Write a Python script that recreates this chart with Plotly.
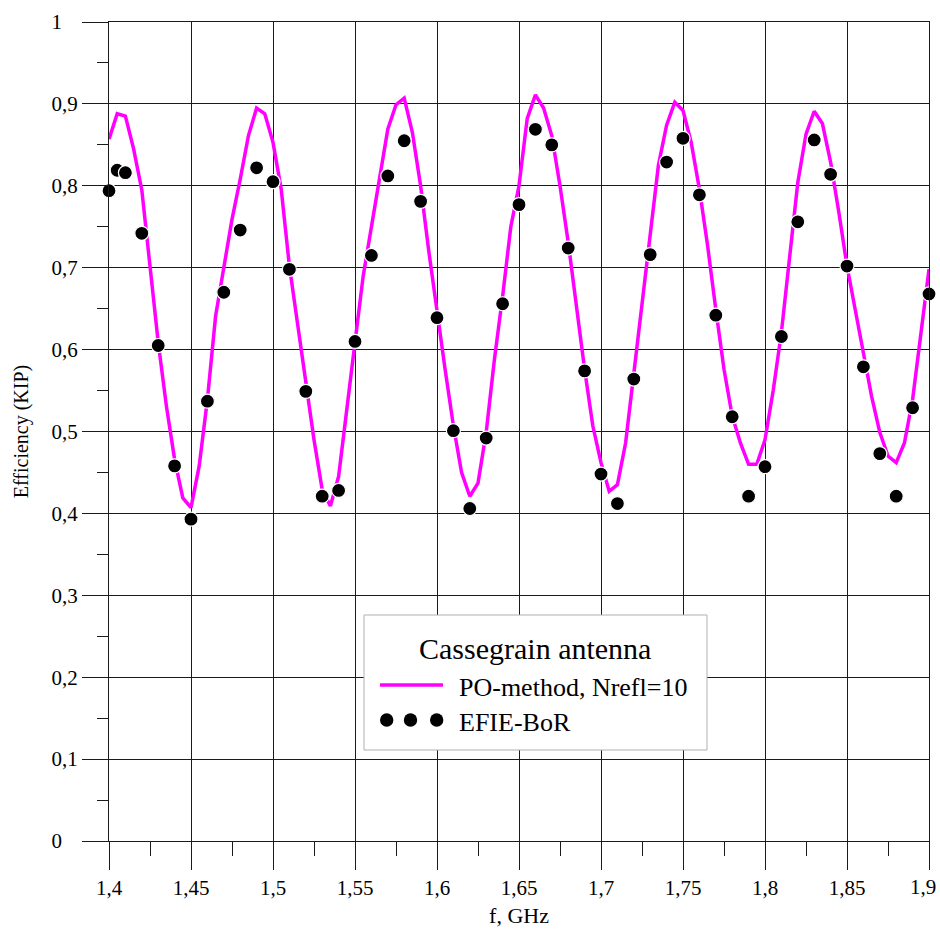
import plotly.graph_objects as go

# ---- data ----
po_freq = [round(1.4 + 0.005 * i, 3) for i in range(101)]
po_eff = [0.857, 0.888, 0.885, 0.845, 0.795, 0.700, 0.609, 0.531, 0.466, 0.419,
          0.407, 0.458, 0.539, 0.641, 0.702, 0.759, 0.808, 0.861, 0.895, 0.888,
          0.853, 0.796, 0.702, 0.629, 0.556, 0.490, 0.429, 0.409, 0.445, 0.523,
          0.609, 0.690, 0.750, 0.810, 0.869, 0.899, 0.907, 0.865, 0.800, 0.720,
          0.645, 0.575, 0.507, 0.450, 0.421, 0.437, 0.499, 0.588, 0.665, 0.750,
          0.800, 0.882, 0.911, 0.895, 0.861, 0.800, 0.731, 0.653, 0.576, 0.507,
          0.462, 0.427, 0.435, 0.486, 0.572, 0.650, 0.735, 0.825, 0.874, 0.902,
          0.892, 0.853, 0.796, 0.727, 0.649, 0.576, 0.519, 0.486, 0.460, 0.460,
          0.490, 0.550, 0.621, 0.711, 0.804, 0.863, 0.891, 0.876, 0.829, 0.768,
          0.702, 0.649, 0.596, 0.543, 0.499, 0.470, 0.462, 0.486, 0.539, 0.621,
          0.698]

efie_freq = [1.40, 1.405, 1.41, 1.42, 1.43, 1.44, 1.45, 1.46, 1.47, 1.48, 1.49,
             1.50, 1.51, 1.52, 1.53, 1.54, 1.55, 1.56, 1.57, 1.58, 1.59,
             1.60, 1.61, 1.62, 1.63, 1.64, 1.65, 1.66, 1.67, 1.68, 1.69,
             1.70, 1.71, 1.72, 1.73, 1.74, 1.75, 1.76, 1.77, 1.78, 1.79,
             1.80, 1.81, 1.82, 1.83, 1.84, 1.85, 1.86, 1.87, 1.88, 1.89, 1.90]
efie_eff = [0.794, 0.819, 0.816, 0.742, 0.605, 0.458, 0.393, 0.537, 0.670, 0.746, 0.822,
            0.805, 0.698, 0.549, 0.421, 0.428, 0.610, 0.715, 0.812, 0.855, 0.781,
            0.639, 0.501, 0.406, 0.492, 0.656, 0.777, 0.869, 0.850, 0.724, 0.574,
            0.448, 0.412, 0.564, 0.716, 0.829, 0.858, 0.789, 0.642, 0.518, 0.421,
            0.457, 0.616, 0.756, 0.856, 0.814, 0.702, 0.579, 0.473, 0.421, 0.529, 0.668]

x_tickvals = [1.4, 1.45, 1.5, 1.55, 1.6, 1.65, 1.7, 1.75, 1.8, 1.85, 1.9]
x_ticktext = ["1,4", "1,45", "1,5", "1,55", "1,6", "1,65", "1,7", "1,75", "1,8", "1,85", "1,9"]
y_tickvals = [0, 0.1, 0.2, 0.3, 0.4, 0.5, 0.6, 0.7, 0.8, 0.9, 1.0]
y_ticktext = ["0", "0,1", "0,2", "0,3", "0,4", "0,5", "0,6", "0,7", "0,8", "0,9", "1"]
x_minor = [1.425, 1.475, 1.525, 1.575, 1.625, 1.675, 1.725, 1.775, 1.825, 1.875]
y_minor = [0.05, 0.15, 0.25, 0.35, 0.45, 0.55, 0.65, 0.75, 0.85, 0.95]

legend_title = "Cassegrain antenna"
po_name = "PO-method, Nrefl=10"
efie_name = "EFIE-BoR"

FONT = "Liberation Serif, Times New Roman, serif"
MAGENTA = "#ff00ff"
GRID = "#1a1a1a"

# single-character y labels are centred like the multi-character ones in the original
y_ticktext_disp = [t + "\u2007\u00a0" if len(t) == 1 else t for t in y_ticktext]
# the last x label sits at the page edge; it is drawn as a right-anchored annotation instead
x_ticktext_disp = x_ticktext[:-1] + [""]

fig = go.Figure()
fig.add_trace(go.Scatter(x=po_freq, y=po_eff, mode="lines", name=po_name,
                         line=dict(color=MAGENTA, width=3.5), showlegend=False))
fig.add_trace(go.Scatter(x=efie_freq, y=efie_eff, mode="markers", name=efie_name,
                         marker=dict(color="black", size=14, line=dict(color="white", width=1.2)),
                         showlegend=False, cliponaxis=False))

axis_common = dict(
    showgrid=True, gridcolor=GRID, gridwidth=1,
    zeroline=False, showline=True, linecolor=GRID, linewidth=1, mirror=True,
    ticks="outside", tickcolor=GRID, tickwidth=1,
    tickfont=dict(family=FONT, size=21, color="black"),
    tickmode="array", ticklabeloverflow="allow",
)
fig.update_xaxes(**axis_common, range=[1.4, 1.9], tickvals=x_tickvals, ticktext=x_ticktext_disp,
                 ticklen=28,
                 minor=dict(ticks="outside", ticklen=14, tickcolor=GRID, tickwidth=1,
                            tickvals=x_minor, showgrid=False),
                 title=dict(text="f, GHz", font=dict(family=FONT, size=22, color="black"), standoff=8))
fig.update_yaxes(**axis_common, range=[0, 1], tickvals=y_tickvals, ticktext=y_ticktext_disp,
                 ticklen=26,
                 minor=dict(ticks="outside", ticklen=11, tickcolor=GRID, tickwidth=1,
                            tickvals=y_minor, showgrid=False),
                 title=dict(text="Efficiency (KIP)", font=dict(family=FONT, size=20, color="black"), standoff=17))

# ---- custom legend (box, title, samples, labels) in paper coordinates ----
W, H = 820.0, 819.0
def px(xp):
    return (xp - 109) / W
def py(yp):
    return (841 - yp) / H

shapes = [
    dict(type="rect", xref="paper", yref="paper", x0=px(364), x1=px(707), y0=py(750), y1=py(615),
         line=dict(color="#b0b0b0", width=1), fillcolor="white", layer="above"),
    dict(type="line", xref="paper", yref="paper", x0=px(380), x1=px(443), y0=py(685), y1=py(685),
         line=dict(color=MAGENTA, width=3.5), layer="above"),
]
for cx in (386.7, 410.5, 436.7):
    r = 6.7
    shapes.append(dict(type="circle", xref="paper", yref="paper",
                       x0=px(cx - r), x1=px(cx + r), y0=py(720 + r), y1=py(720 - r),
                       fillcolor="black", line=dict(color="black", width=0), layer="above"))

annotations = [
    dict(text=legend_title, xref="paper", yref="paper", x=px(535), y=py(648),
         xanchor="center", yanchor="middle", showarrow=False,
         font=dict(family=FONT, size=30, color="black")),
    dict(text=po_name, xref="paper", yref="paper", x=px(457), y=py(687),
         xanchor="left", yanchor="middle", showarrow=False,
         font=dict(family=FONT, size=26, color="black")),
    dict(text=efie_name, xref="paper", yref="paper", x=px(457), y=py(722),
         xanchor="left", yanchor="middle", showarrow=False,
         font=dict(family=FONT, size=26, color="black")),
    # last x tick label, kept inside the page edge
    dict(text=x_ticktext[-1], xref="x", yref="paper", x=x_tickvals[-1], y=0,
         xanchor="right", yanchor="middle", xshift=9, yshift=-46, showarrow=False,
         font=dict(family=FONT, size=21, color="black")),
]

fig.update_layout(
    width=940, height=934,
    margin=dict(l=109, r=11, t=22, b=93, autoexpand=False),
    paper_bgcolor="white", plot_bgcolor="white",
    showlegend=False,
    shapes=shapes, annotations=annotations,
    font=dict(family=FONT, color="black"),
)

# remove the default 8px page margin so the 940x934 figure fills the window exactly
fig.write_html("out.html",
               config={"displayModeBar": False},
               post_script="document.body.style.margin='0';document.body.style.overflow='hidden';")
